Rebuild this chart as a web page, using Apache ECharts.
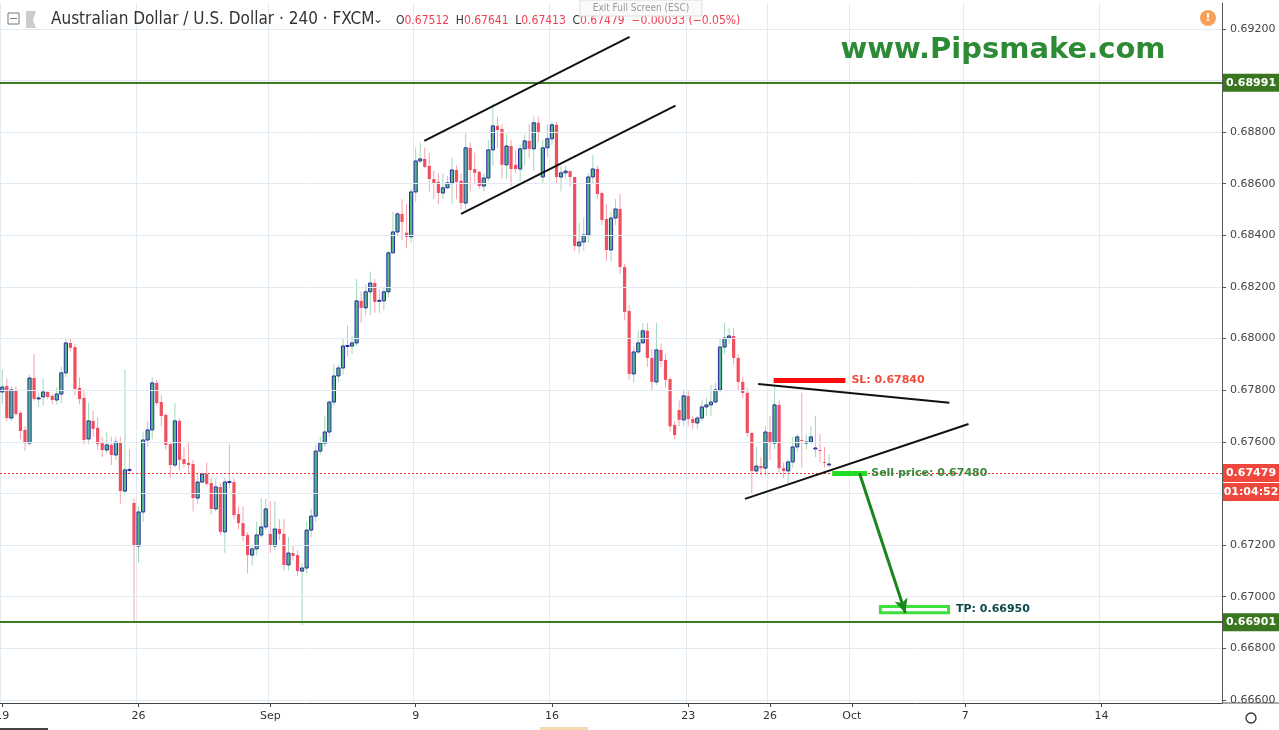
<!DOCTYPE html>
<html><head><meta charset="utf-8">
<script src="https://cdn.jsdelivr.net/npm/echarts@6/dist/echarts.min.js"></script>
<style>html,body{margin:0;padding:0;background:#fff}#c{width:1279px;height:730px}</style>
</head><body><div id="c"></div>
<script>
const openP=[.67793,.67816,.67692,.67801,.67712,.67646,.67595,.67847,.67770,.67774,.67793,.67778,.67762,.67785,.67867,.67983,.67967,.67809,.67770,.67611,.67681,.67654,.67595,.67568,.67588,.67549,.67599,.67409,.67491,.67363,.67196,.67328,.67607,.67646,.67828,.67754,.67704,.67591,.67510,.67681,.67533,.67518,.67514,.67382,.67444,.67475,.67440,.67340,.67425,.67251,.67444,.67444,.67320,.67285,.67239,.67161,.67185,.67239,.67270,.67243,.67196,.67262,.67243,.67123,.67169,.67161,.67099,.67111,.67258,.67312,.67564,.67595,.67638,.67754,.67855,.67886,.67971,.67971,.67983,.68146,.68119,.68181,.68215,.68146,.68146,.68181,.68332,.68413,.68483,.68410,.68394,.68568,.68688,.68696,.68669,.68618,.68607,.68564,.68584,.68603,.68653,.68611,.68525,.68739,.68657,.68646,.68591,.68622,.68731,.68824,.68812,.68673,.68746,.68673,.68657,.68735,.68766,.68735,.68836,.68626,.68739,.68774,.68828,.68626,.68642,.68649,.68626,.68359,.68374,.68401,.68626,.68657,.68564,.68463,.68343,.68467,.68502,.68277,.68107,.67863,.67948,.67983,.68030,.67925,.67832,.67956,.67917,.67843,.67665,.67723,.67685,.67778,.67688,.67673,.67692,.67735,.67743,.67754,.67801,.67967,.68002,.68010,.67925,.67832,.67789,.67634,.67487,.67506,.67498,.67638,.67595,.67743,.67498,.67487,.67522,.67580,.67607,.67599,.67599,.67576,.67568,.67522,.67514];
const closeP=[.67812,.67692,.67801,.67708,.67642,.67595,.67847,.67766,.67770,.67793,.67774,.67762,.67785,.67867,.67983,.67964,.67805,.67766,.67607,.67681,.67650,.67591,.67568,.67588,.67549,.67599,.67409,.67491,.67493,.67196,.67328,.67607,.67646,.67828,.67750,.67700,.67588,.67510,.67681,.67530,.67514,.67510,.67382,.67444,.67475,.67437,.67340,.67425,.67251,.67444,.67446,.67316,.67285,.67235,.67161,.67185,.67239,.67270,.67340,.67196,.67262,.67243,.67123,.67169,.67158,.67099,.67111,.67258,.67312,.67564,.67595,.67638,.67754,.67855,.67886,.67971,.67973,.67983,.68146,.68119,.68181,.68215,.68142,.68148,.68181,.68332,.68413,.68483,.68452,.68394,.68568,.68688,.68696,.68665,.68618,.68603,.68564,.68584,.68603,.68653,.68607,.68525,.68739,.68653,.68642,.68591,.68622,.68731,.68824,.68808,.68673,.68746,.68657,.68657,.68735,.68766,.68735,.68836,.68797,.68739,.68774,.68828,.68626,.68642,.68649,.68626,.68359,.68374,.68401,.68626,.68657,.68560,.68459,.68343,.68467,.68502,.68277,.68103,.67863,.67948,.67983,.68030,.67925,.67832,.67956,.67913,.67840,.67660,.67626,.67685,.67778,.67688,.67673,.67692,.67735,.67743,.67754,.67801,.67967,.68002,.68010,.67925,.67832,.67789,.67634,.67487,.67506,.67498,.67638,.67595,.67743,.67498,.67487,.67522,.67580,.67619,.67603,.67599,.67619,.67576,.67564,.67518,.67514,.67479];
const highP=[.67880,.67845,.67815,.67815,.67720,.67660,.67860,.67940,.67790,.67845,.67800,.67785,.67810,.67890,.68000,.68000,.67980,.67850,.67800,.67750,.67720,.67695,.67620,.67640,.67620,.67620,.67620,.67880,.67570,.67380,.67350,.67640,.67680,.67850,.67840,.67780,.67710,.67600,.67750,.67690,.67580,.67600,.67530,.67480,.67480,.67520,.67460,.67460,.67440,.67460,.67590,.67460,.67350,.67350,.67250,.67200,.67290,.67380,.67380,.67370,.67370,.67300,.67300,.67230,.67200,.67180,.67130,.67290,.67340,.67590,.67620,.67700,.67760,.67900,.67900,.68000,.68050,.68010,.68230,.68180,.68210,.68260,.68230,.68190,.68200,.68340,.68490,.68490,.68540,.68520,.68580,.68740,.68760,.68740,.68720,.68650,.68640,.68640,.68630,.68700,.68670,.68640,.68800,.68760,.68720,.68650,.68640,.68770,.68910,.68860,.68830,.68790,.68770,.68730,.68750,.68790,.68830,.68860,.68860,.68770,.68830,.68840,.68840,.68670,.68670,.68650,.68620,.68450,.68470,.68640,.68710,.68670,.68570,.68520,.68490,.68540,.68560,.68290,.68130,.67970,.68030,.68060,.68060,.67960,.68060,.67980,.67940,.67850,.67680,.67760,.67800,.67800,.67700,.67700,.67760,.67770,.67820,.67830,.68000,.68060,.68040,.68040,.67940,.67850,.67810,.67640,.67580,.67540,.67660,.67700,.67820,.67760,.67520,.67530,.67620,.67630,.67790,.67630,.67660,.67700,.67630,.67580,.67550,.67640];
const lowP=[.67745,.67680,.67680,.67700,.67610,.67565,.67585,.67760,.67735,.67740,.67765,.67745,.67745,.67750,.67850,.67950,.67780,.67745,.67590,.67590,.67620,.67570,.67540,.67555,.67510,.67530,.67360,.67400,.67480,.66898,.67130,.67290,.67580,.67610,.67740,.67660,.67570,.67460,.67500,.67490,.67500,.67480,.67330,.67360,.67440,.67430,.67320,.67330,.67240,.67170,.67420,.67300,.67260,.67215,.67090,.67120,.67160,.67230,.67260,.67170,.67180,.67220,.67100,.67100,.67140,.67080,.66890,.67090,.67230,.67290,.67550,.67580,.67620,.67740,.67830,.67860,.67930,.67940,.67970,.68060,.68090,.68090,.68100,.68100,.68110,.68160,.68330,.68400,.68380,.68350,.68370,.68530,.68680,.68660,.68570,.68540,.68520,.68540,.68580,.68520,.68540,.68500,.68500,.68570,.68600,.68580,.68570,.68610,.68670,.68740,.68620,.68620,.68590,.68640,.68610,.68670,.68700,.68650,.68760,.68600,.68700,.68750,.68600,.68570,.68620,.68590,.68340,.68330,.68340,.68370,.68600,.68540,.68440,.68300,.68300,.68440,.68250,.68070,.67840,.67830,.67940,.67990,.67890,.67800,.67820,.67890,.67810,.67640,.67610,.67660,.67660,.67660,.67650,.67650,.67680,.67700,.67700,.67780,.67790,.67940,.67980,.67900,.67800,.67770,.67620,.67400,.67480,.67470,.67470,.67530,.67570,.67480,.67460,.67440,.67500,.67560,.67500,.67570,.67590,.67540,.67520,.67500,.67500,.67413];
const tickIndex=[0,30,59,91,121,151,169,187,212,242];
const tickLabels=['19','26','Sep','9','16','23','26','Oct','7','14'];
const priceTicks=[0.666,0.668,0.670,0.672,0.674,0.676,0.678,0.680,0.682,0.684,0.686,0.688,0.690,0.692];
const nCats=269;
const levelHigh=0.68991, levelLow=0.66901, lastPrice=0.67479;
const slPrice=0.67840, sellPrice=0.67480, tpPrice=0.66950;

const K=10000;
const P=v=>v*K;
const cats=[];for(let i=0;i<nCats;i++)cats.push(String(i));
const candleData=openP.map((o,i)=>[i,P(o),P(closeP[i]),P(lowP[i]),P(highP[i])]);
const tickMap={};tickIndex.forEach((t,k)=>tickMap[t]=tickLabels[k]);
const hiddenLabels=[0.690,0.674];

const chart=echarts.init(document.getElementById('c'));
const seg=(x1,y1,x2,y2,style,label)=>[{coord:[x1,P(y1)],lineStyle:style,label:label||{show:false}},{coord:[x2,P(y2)]}];
const blk={color:'#111',width:2,type:'solid'};
const gridLines=priceTicks.map(v=>({yAxis:P(v),lineStyle:{color:'#e3ebf2',width:1,type:'solid'}}));
chart.setOption({
 animation:false,
 grid:{left:0,right:57,top:3,bottom:27,containLabel:false,outerBoundsMode:'none'},
 xAxis:[{type:'category',data:cats,boundaryGap:true,
   axisLine:{show:true,onZero:false,lineStyle:{color:'#444'}},
   axisTick:{show:true,alignWithLabel:true,length:4,interval:(i)=>tickMap[i]!==undefined,lineStyle:{color:'#444'}},
   axisLabel:{interval:(i)=>tickMap[i]!==undefined,formatter:(v,i)=>tickMap[i]||'',color:'#333',fontSize:11,fontFamily:'Verdana, DejaVu Sans',margin:8},
   splitLine:{show:true,interval:(i)=>tickMap[i]!==undefined,lineStyle:{color:'#e3ebf2'}}},
  {type:'value',min:-0.5,max:nCats-0.5,show:false}],
 yAxis:{type:'value',position:'right',min:6658.8,max:6930,
   axisLine:{show:true,onZero:false,lineStyle:{color:'#555'}},
   axisTick:{show:true,length:4,lineStyle:{color:'#555'},customValues:priceTicks.map(P)},
   axisLabel:{color:'#444',fontSize:11,fontFamily:'Verdana, DejaVu Sans',margin:8,
     customValues:priceTicks.filter(v=>hiddenLabels.indexOf(v)<0).map(P),
     formatter:v=>(v/K).toFixed(5)},
   splitLine:{show:false}},
 series:[
  {type:'line',xAxisIndex:1,data:[],z:0,
   markLine:{silent:true,symbol:'none',label:{show:false},data:gridLines}},
  {type:'custom',xAxisIndex:1,data:candleData,clip:true,z:3,
   renderItem:function(params,api){
     const i=api.value(0),o=api.value(1),c=api.value(2),l=api.value(3),h=api.value(4);
     const po=api.coord([i,o]),pc=api.coord([i,c]),pl=api.coord([i,l]),ph=api.coord([i,h]);
     const up=c>=o,w=3.2,x=po[0];
     return {type:'group',children:[
      {type:'line',shape:{x1:x,y1:ph[1],x2:x,y2:pl[1]},style:{stroke:up?'#9fd8b8':'#f5a3ab',lineWidth:1}},
      {type:'rect',shape:{x:x-w/2,y:Math.min(po[1],pc[1]),width:w,height:Math.max(1,Math.abs(po[1]-pc[1]))},
       style:{fill:up?'#53b987':'#ef4f5f',stroke:up?'#2b2aa0':'#ef4f5f',lineWidth:up?1:0}}]};
   }},
  {type:'line',xAxisIndex:1,data:[],z:4,
   markLine:{silent:true,symbol:'none',label:{show:false},data:[
     {yAxis:P(levelHigh),lineStyle:{color:'#3d7a24',width:2,type:'solid'}},
     {yAxis:P(levelLow),lineStyle:{color:'#3d7a24',width:2,type:'solid'}},
     {yAxis:P(lastPrice),lineStyle:{color:'#f0302a',width:1,type:[2,2]}},
     seg(92.9,0.68766,138.1,0.69169,blk),
     seg(101,0.68483,148.2,0.68902,blk),
     seg(166.4,0.67824,208.5,0.67751,blk),
     seg(163.5,0.67379,212.7,0.67669,blk),
     seg(169.8,slPrice,185.6,slPrice,{color:'#ff0a0a',width:5,type:'solid'},
       {show:true,position:'end',formatter:'SL: 0.67840',color:'#f04a3a',fontWeight:'bold',fontSize:11,fontFamily:'Verdana, DejaVu Sans',distance:6}),
     seg(182.7,sellPrice,190.4,sellPrice,{color:'#22dd22',width:5,type:'solid'},
       {show:true,position:'end',formatter:'Sell price: 0.67480',color:'#3a8a3a',fontWeight:'bold',fontSize:11,fontFamily:'Verdana, DejaVu Sans',distance:4})
   ]}},
  {type:'line',xAxisIndex:1,data:[],z:4,
   markLine:{silent:true,symbol:['none','arrow'],symbolSize:[10,14],label:{show:false},data:[
     seg(188.7,0.67478,198.8,0.66937,{color:'#1b861b',width:3,type:'solid'})]},
   markArea:{silent:true,data:[[{coord:[193.3,P(tpPrice+0.00012)],itemStyle:{color:'rgba(0,0,0,0)',borderColor:'#3ee03e',borderWidth:3},
       label:{show:true,position:'right',formatter:'TP: 0.66950',color:'#0c4a4a',fontWeight:'bold',fontSize:11,fontFamily:'Verdana, DejaVu Sans',distance:6}},{coord:[208.3,P(tpPrice-0.00012)]}]]}}
 ]
});
const yp=v=>chart.convertToPixel({yAxisIndex:0},P(v));
const tag=(v,txt,col,dy)=>{const y=yp(v)+(dy||0);return [
  {type:'rect',shape:{x:1223,y:y-9,width:56,height:18},style:{fill:col},z:10},
  {type:'text',x:1251,y:y,style:{text:txt,fill:'#fff',font:'bold 11px Verdana, DejaVu Sans',align:'center',verticalAlign:'middle'},z:11}];};
chart.setOption({graphic:[
 {type:'rect',shape:{x:8,y:13,width:11,height:11},style:{fill:'#fff',stroke:'#777',lineWidth:1}},
 {type:'line',shape:{x1:10,y1:18.5,x2:17,y2:18.5},style:{stroke:'#777',lineWidth:1}},
 {type:'polygon',shape:{points:[[26,11],[36,11],[33,20],[36,28],[26,28]]},style:{fill:'#ccc'}},
 {type:'text',x:51,y:20,style:{text:'Australian Dollar / U.S. Dollar · 240 · FXCM',fill:'#333',font:'17px "DejaVu Sans Condensed", "Liberation Sans Narrow", sans-serif',verticalAlign:'middle'}},
 {type:'text',x:373,y:20,style:{text:'⌄',fill:'#333',font:'12px DejaVu Sans',verticalAlign:'middle'}},
 {type:'text',x:396,y:21,style:{rich:{k:{fill:'#333',font:'12px "DejaVu Sans Condensed", sans-serif'},v:{fill:'#f04050',font:'12px "DejaVu Sans Condensed", sans-serif'}},
   text:'{k|O}{v|0.67512}  {k|H}{v|0.67641}  {k|L}{v|0.67413}  {k|C}{v|0.67479}  {v|−0.00033 (−0.05%)}',verticalAlign:'middle'}},
 {type:'rect',shape:{x:580,y:0,width:122,height:16},style:{fill:'#fafafa',stroke:'#ddd'}},
 {type:'text',x:641,y:8,style:{text:'Exit Full Screen (ESC)',fill:'#999',font:'10px "DejaVu Sans Condensed", sans-serif',align:'center',verticalAlign:'middle'}},
 {type:'text',x:1003,y:50,style:{text:'www.Pipsmake.com',fill:'#2e8b35',font:'bold 29px Verdana, "DejaVu Sans", sans-serif',align:'center',verticalAlign:'middle'}},
 {type:'circle',shape:{cx:1208,cy:18,r:8},style:{fill:'#f7a05a'}},
 {type:'text',x:1208,y:18,style:{text:'!',fill:'#fff',font:'bold 11px DejaVu Sans',align:'center',verticalAlign:'middle'}},
 ...tag(levelHigh,'0.68991','#3a7520'),
 ...tag(levelLow,'0.66901','#3a7520'),
 ...tag(lastPrice,'0.67479','#f0473d'),
 ...tag(lastPrice,'01:04:52','#f0473d',19),
 {type:'line',shape:{x1:1222,y1:703,x2:1279,y2:703},style:{stroke:'#555',lineWidth:1}},
 {type:'rect',shape:{x:0,y:728,width:48,height:2},style:{fill:'#444'}},
 {type:'rect',shape:{x:540,y:727,width:48,height:3},style:{fill:'#f5d9b0'}},
 {type:'circle',shape:{cx:1251,cy:718,r:5},style:{fill:'none',stroke:'#333',lineWidth:1.3}}
]});
</script></body></html>
